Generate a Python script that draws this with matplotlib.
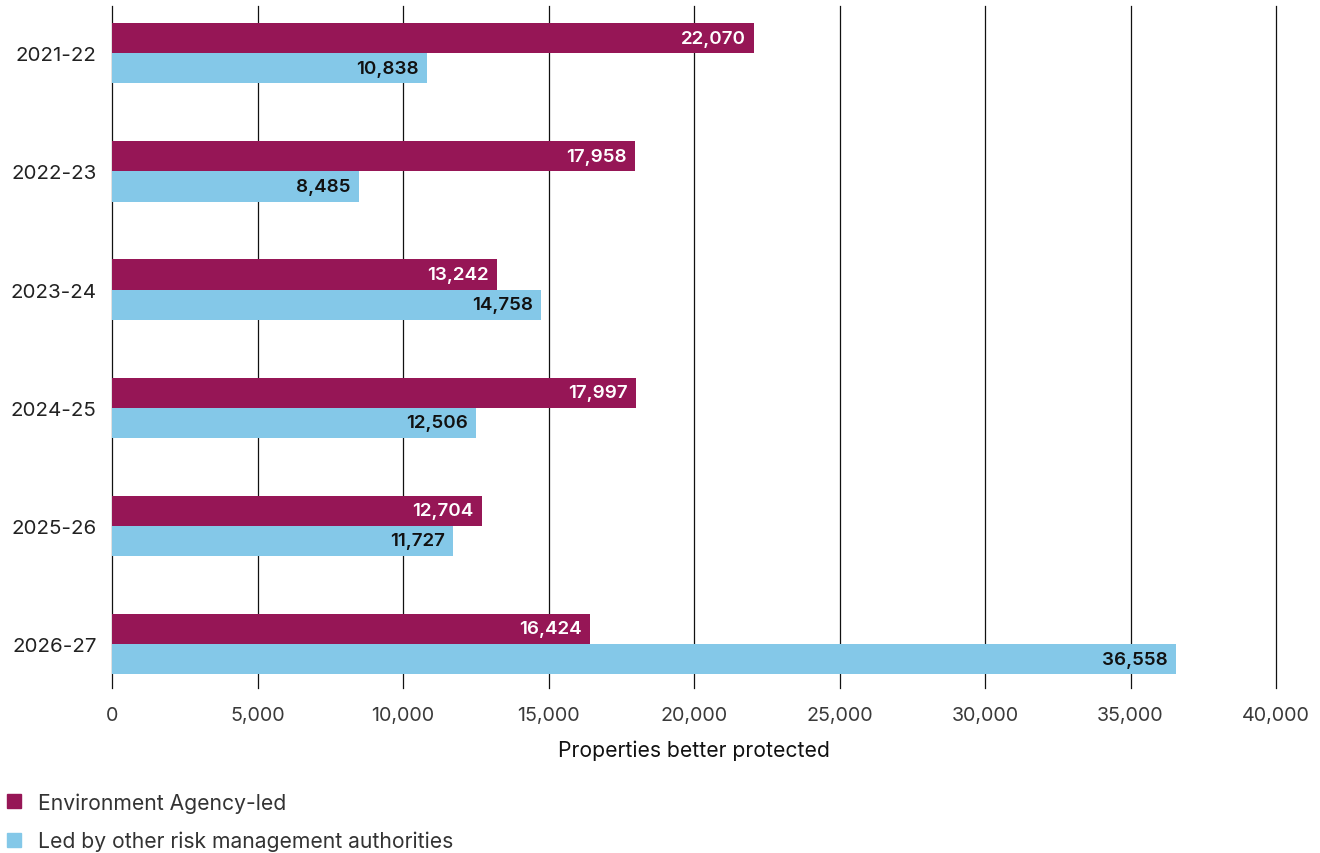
import numpy as np
import matplotlib
matplotlib.use("Agg")
import matplotlib.pyplot as plt
from matplotlib.patches import Patch

# data
years = ['2021-22', '2022-23', '2023-24', '2024-25', '2025-26', '2026-27']
ea_led = [22070, 17958, 13242, 17997, 12704, 16424]
rma_led = [10838, 8485, 14758, 12506, 11727, 36558]
xticks = [0, 5000, 10000, 15000, 20000, 25000, 30000, 35000, 40000]
series_names = ['Environment Agency-led', 'Led by other risk management authorities']

MAGENTA = '#961656'
BLUE = '#84c8e8'
plt.rcParams['font.family'] = ['Inter', 'DejaVu Sans']

fig = plt.figure(figsize=(13.2, 8.54), dpi=100)
ax = fig.add_axes([112 / 1320, 1 - 689 / 854, (1276 - 112) / 1320, (689 - 7) / 854])

y = np.arange(len(years))
h = 0.255
b1 = ax.barh(y - h / 2, ea_led, height=h, color=MAGENTA, zorder=3)
b2 = ax.barh(y + h / 2, rma_led, height=h, color=BLUE, zorder=3)

# value labels inside bar ends
for bars, vals, c in [(b1, ea_led, 'white'), (b2, rma_led, '#111111')]:
    for bar, v in zip(bars, vals):
        ax.text(v - 280, bar.get_y() + bar.get_height() / 2, f'{v:,}',
                ha='right', va='center', fontsize=13.5, color=c,
                fontweight='semibold', zorder=4)

ax.set_xlim(0, 40000)
ax.set_ylim(5.372, -0.40)
ax.set_xticks(xticks)
ax.set_xticklabels([f'{t:,}' for t in xticks], fontsize=14.2, color='#3a3a3a')
ax.set_yticks(y)
ax.set_yticklabels(years, fontsize=14.8, color='#222222')
ax.tick_params(axis='x', length=0, pad=13)
ax.tick_params(axis='y', length=0, pad=11)
for t in xticks:
    ax.axvline(t, color='#111111', lw=0.9, zorder=1, clip_on=False)
for s in ax.spines.values():
    s.set_visible(False)
ax.set_xlabel('Properties better protected', fontsize=15.2, color='#111111', labelpad=11)

handles = [Patch(color=MAGENTA), Patch(color=BLUE)]
fig.legend(handles, series_names, loc='lower left', bbox_to_anchor=(-0.009, -0.020),
           frameon=False, fontsize=15.2, handlelength=0.65, handleheight=0.65,
           handletextpad=0.8, labelspacing=0.85, labelcolor='#333333')

fig.savefig('out.png', dpi=100)
